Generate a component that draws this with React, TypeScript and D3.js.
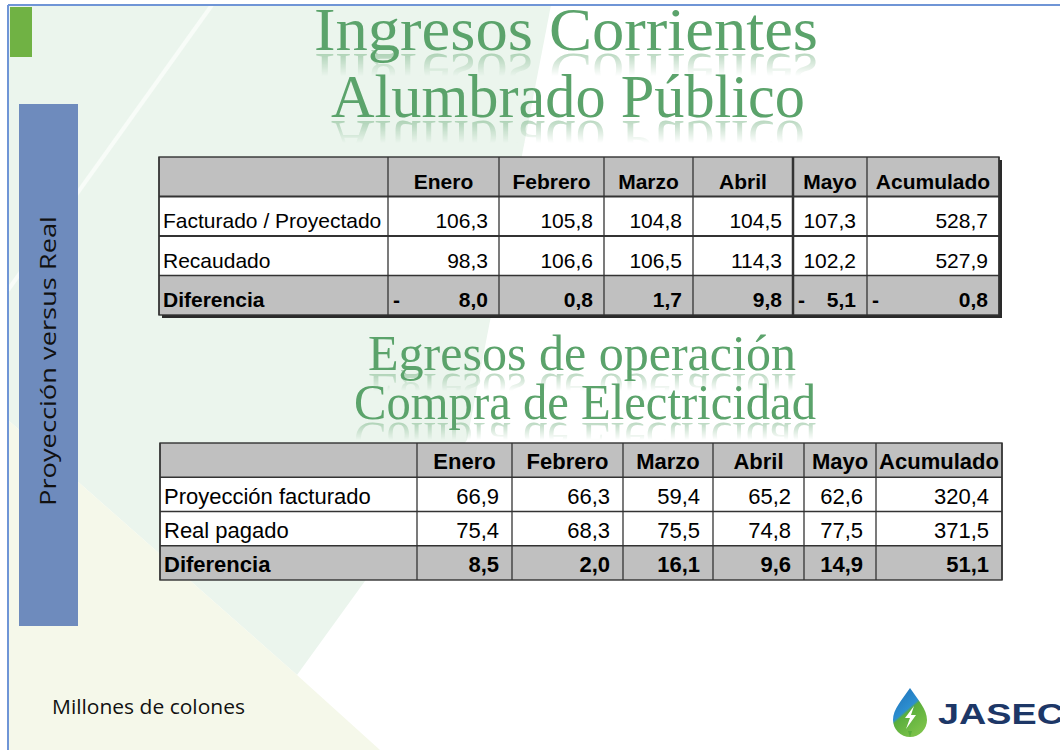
import React from "react";
import * as d3 from "d3";

// table data (millones de colones)
const months = ["Enero", "Febrero", "Marzo", "Abril", "Mayo", "Acumulado"];

const ingresosLabels = ["Facturado / Proyectado", "Recaudado", "Diferencia"];
const ingresosFacturado = [106.3, 105.8, 104.8, 104.5, 107.3, 528.7];
const ingresosRecaudado = [98.3, 106.6, 106.5, 114.3, 102.2, 527.9];
const ingresosDiferencia = [-8.0, 0.8, 1.7, 9.8, -5.1, -0.8];

const egresosLabels = ["Proyección facturado", "Real pagado", "Diferencia"];
const egresosProyeccion = [66.9, 66.3, 59.4, 65.2, 62.6, 320.4];
const egresosReal = [75.4, 68.3, 75.5, 74.8, 77.5, 371.5];
const egresosDiferencia = [8.5, 2.0, 16.1, 9.6, 14.9, 51.1];

const es = d3.formatLocale({ decimal: ",", thousands: ".", grouping: [3], currency: ["", ""] });
const fmt = es.format(",.1f");

const W = 1060;
const H = 750;
const GREEN = "#5ba36b";
const FONT = "'Liberation Sans', Arial, sans-serif";

type TableProps = {
	edges: number[];
	top: number;
	bottom: number;
	labels: string[];
	series: number[][];
	fontSize: number;
	padRight: number;
	accounting: boolean;
	heavy: boolean;
};

const DataTable: React.FC<TableProps> = ({ edges, top, bottom, labels, series, fontSize, padRight, accounting, heavy }) => {
	const rowKeys = ["head", ...labels.map((_, i) => `r${i}`)];
	const y = d3.scaleBand<string>().domain(rowKeys).range([top, bottom]);
	const left = edges[0];
	const right = edges[edges.length - 1];
	const lastRow = rowKeys.length - 1;
	const rowBase = (k: string) => (y(k) as number) + y.bandwidth() - 8;

	return (
		<g fontFamily={FONT} fontSize={fontSize} fill="#000">
			{heavy && <rect x={left + 3} y={top + 3} width={right - left} height={bottom - top} fill="#2a2a2a" />}
			{rowKeys.map((k, i) => (
				<rect
					key={k}
					x={left}
					y={y(k)}
					width={right - left}
					height={y.bandwidth()}
					fill={i === 0 || i === lastRow ? "#c0c0c0" : "#ffffff"}
				/>
			))}
			{/* grid */}
			{rowKeys.slice(1).map((k, i) => (
				<line
					key={k}
					x1={left}
					x2={right}
					y1={y(k)}
					y2={y(k)}
					stroke="#333"
					strokeWidth={heavy && i < 2 ? 2 : 1.3}
				/>
			))}
			{edges.map((e, i) => (
				<line
					key={i}
					x1={e}
					x2={e}
					y1={top}
					y2={bottom}
					stroke="#333"
					strokeWidth={heavy && i === 5 ? 2.5 : 1.3}
				/>
			))}
			<rect x={left} y={top} width={right - left} height={bottom - top} fill="none" stroke="#333" strokeWidth={1.4} />

			{/* header */}
			{months.map((m, j) => (
				<text key={m} x={(edges[j + 1] + edges[j + 2]) / 2} y={rowBase("head")} textAnchor="middle" fontWeight="bold">
					{m}
				</text>
			))}

			{/* rows */}
			{labels.map((lab, i) => {
				const k = `r${i}`;
				const bold = i === labels.length - 1;
				return (
					<g key={k} fontWeight={bold ? "bold" : "normal"}>
						<text x={left + 4} y={rowBase(k)}>
							{lab}
						</text>
						{series[i].map((v, j) => (
							<g key={j}>
								{accounting && v < 0 && (
									<text x={edges[j + 1] + 5} y={rowBase(k)}>
										-
									</text>
								)}
								<text x={edges[j + 2] - padRight} y={rowBase(k)} textAnchor="end">
									{fmt(accounting ? Math.abs(v) : v)}
								</text>
							</g>
						))}
					</g>
				);
			})}
		</g>
	);
};

type TitleProps = { id: string; text: string; x: number; y: number; size: number; len: number };

const TitleLine: React.FC<TitleProps> = ({ id, text, x, y, size, len }) => {
	const common = {
		x,
		y,
		fontSize: size,
		textAnchor: "middle" as const,
		textLength: len,
		lengthAdjust: "spacingAndGlyphs" as const,
		fontFamily: "'Liberation Serif', 'Times New Roman', serif",
		fill: GREEN,
	};
	return (
		<g>
			<defs>
				<linearGradient id={`g-${id}`} x1="0" y1={y + 2} x2="0" y2={y + size * 0.42} gradientUnits="userSpaceOnUse">
					<stop offset="0" stopColor="#fff" stopOpacity={0.45} />
					<stop offset="1" stopColor="#fff" stopOpacity={0} />
				</linearGradient>
				<mask id={`m-${id}`} maskUnits="userSpaceOnUse" x={0} y={y} width={W} height={size}>
					<rect x={0} y={y} width={W} height={size} fill={`url(#g-${id})`} />
				</mask>
			</defs>
			<g mask={`url(#m-${id})`}>
				<text {...common} transform={`translate(0 ${2 * y + 4}) scale(1 -1)`}>
					{text}
				</text>
			</g>
			<text {...common}>{text}</text>
		</g>
	);
};

const Logo: React.FC = () => (
	<g>
		<defs>
			<linearGradient id="drop" x1="0" y1="0" x2="0.6" y2="1">
				<stop offset="0" stopColor="#1d6fb8" />
				<stop offset="0.5" stopColor="#2d8fd0" />
				<stop offset="0.55" stopColor="#5aae3c" />
				<stop offset="1" stopColor="#7cc24a" />
			</linearGradient>
		</defs>
		<path
			d="M910,688 C902,700 893,709 893,720 A17,17 0 0 0 927,720 C927,709 918,700 910,688 Z"
			fill="url(#drop)"
		/>
		<path d="M910,737 L908,731 L912,731 Z" fill="#5aae3c" />
		<path d="M914,706 L905,718 L910,718 L906,729 L916,715 L911,715 Z" fill="#fff" />
		<text
			x={938}
			y={724}
			fontFamily={FONT}
			fontWeight="bold"
			fontSize={29}
			fill="#1d3767"
			textLength={126}
			lengthAdjust="spacingAndGlyphs"
		>
			JASEC
		</text>
	</g>
);

const App: React.FC = () => {
	const t1Edges = [159, 388, 499, 604, 693, 793, 867, 999];
	const t2Edges = [160, 417, 512, 623, 713, 804, 876, 1002];

	return (
		<svg width={W} height={H} style={{ position: "absolute", left: 0, top: 0, background: "#fff" }}>
			{/* slide background */}
			<polygon points="8,5 551,5 467,440 297,675 8,420" fill="#ebf5ed" />
			<polygon points="8,420 297,675 380,750 8,750" fill="#f5f8ea" />
			<line x1={212} y1={5} x2={8} y2={290} stroke="#fafdfa" strokeWidth={4} opacity={0.9} />
			<line x1={8} y1={5} x2={W} y2={5} stroke="#6f95d6" strokeWidth={2} />
			<line x1={8} y1={5} x2={8} y2={H} stroke="#6f95d6" strokeWidth={2} />

			<rect x={10} y={7} width={22} height={50} fill="#70b244" />
			<rect x={19} y={104} width={59} height={522} fill="#6e8bbd" />
			<text
				transform="translate(56 361) rotate(-90)"
				textAnchor="middle"
				fontFamily="'Open Sans', 'Noto Sans', sans-serif"
				fontSize={21}
				fill="#111"
				textLength={290}
				lengthAdjust="spacingAndGlyphs"
			>
				{"Proyección  versus  Real"}
			</text>

			<TitleLine id="t1" text="Ingresos Corrientes" x={566} y={50} size={62} len={504} />
			<TitleLine id="t2" text="Alumbrado Público" x={568} y={117} size={62} len={474} />

			<DataTable
				edges={t1Edges}
				top={157}
				bottom={315}
				labels={ingresosLabels}
				series={[ingresosFacturado, ingresosRecaudado, ingresosDiferencia]}
				fontSize={21}
				padRight={11}
				accounting={true}
				heavy={true}
			/>

			<TitleLine id="t3" text="Egresos de operación" x={582} y={370} size={50} len={428} />
			<TitleLine id="t4" text="Compra de Electricidad" x={585} y={419} size={50} len={462} />

			<DataTable
				edges={t2Edges}
				top={443}
				bottom={580}
				labels={egresosLabels}
				series={[egresosProyeccion, egresosReal, egresosDiferencia]}
				fontSize={22}
				padRight={13}
				accounting={false}
				heavy={false}
			/>

			<text
				x={52}
				y={714}
				fontFamily="'Open Sans', 'Noto Sans', sans-serif"
				fontSize={20}
				fill="#111"
				textLength={193}
				lengthAdjust="spacingAndGlyphs"
			>
				Millones de colones
			</text>

			<Logo />
		</svg>
	);
};

export default App;
